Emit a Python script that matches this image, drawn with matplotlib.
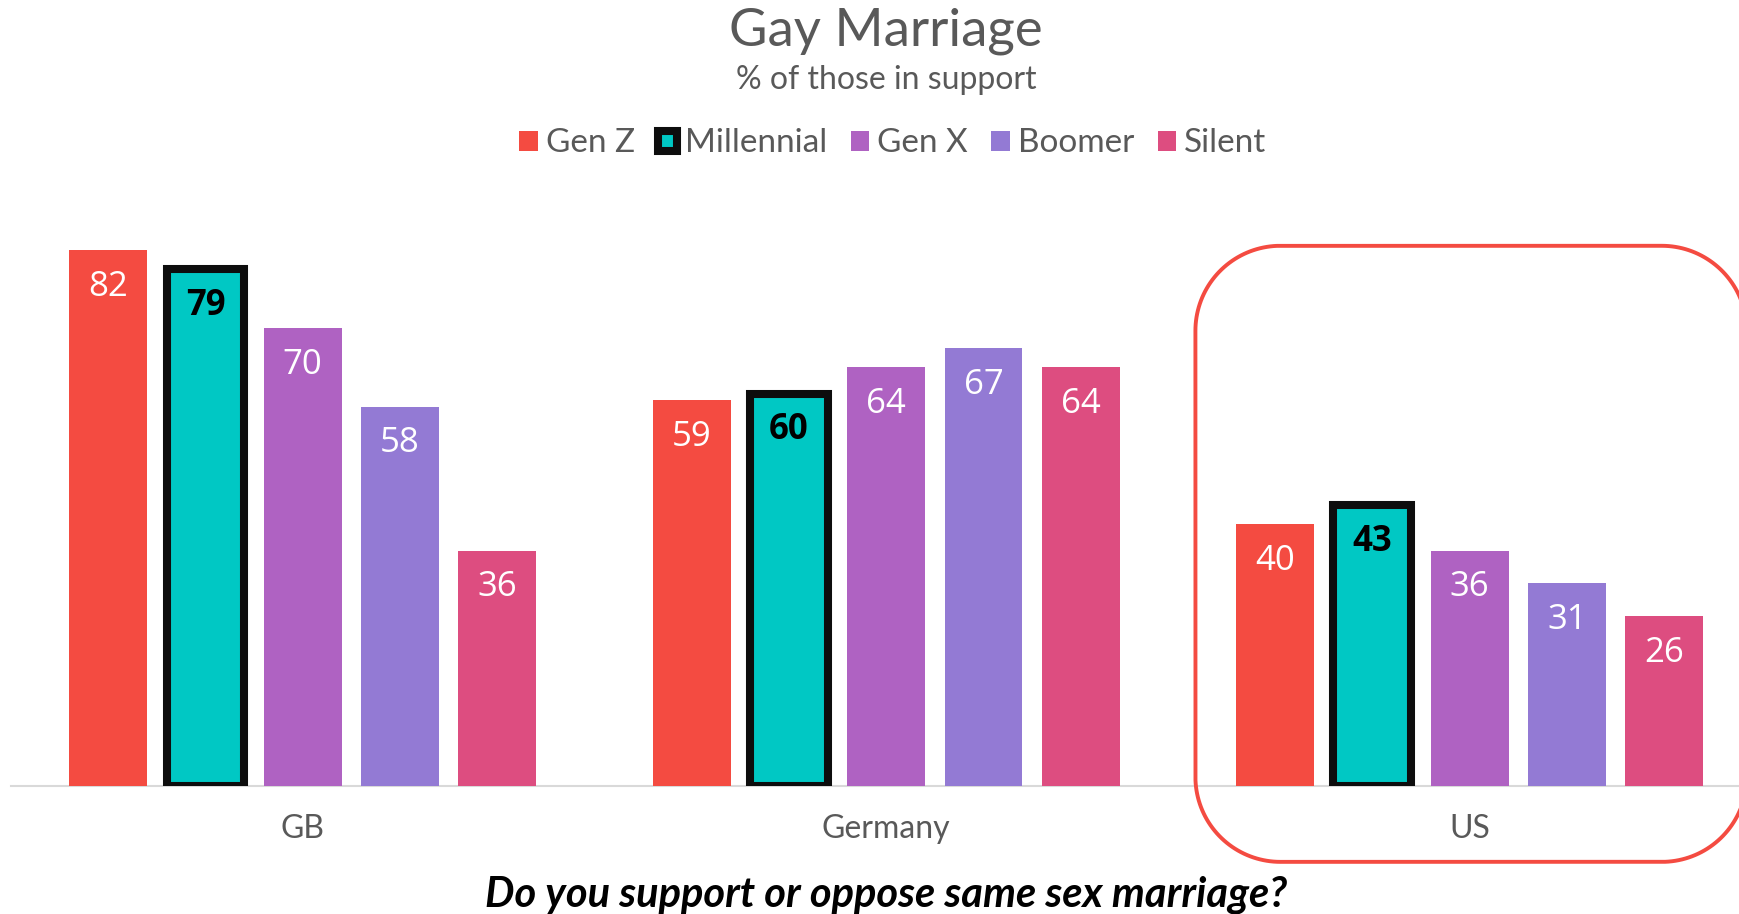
import numpy as np
import matplotlib.pyplot as plt

# data
countries = ["GB", "Germany", "US"]
generations = ["Gen Z", "Millennial", "Gen X", "Boomer", "Silent"]
gen_z = [82, 59, 40]
millennial = [79, 60, 43]
gen_x = [70, 64, 36]
boomer = [58, 67, 31]
silent = [36, 64, 26]

series = [gen_z, millennial, gen_x, boomer, silent]
colors = ["#F44B41", "#00C8C4", "#AF62C2", "#937AD4", "#DD4D80"]

plt.rcParams['font.family'] = ['Lato', 'DejaVu Sans']

fig = plt.figure(figsize=(17.39, 9.14), dpi=100)
ax = fig.add_axes([11 / 1739, 128 / 914, 1728 / 1739, 654 / 914])

group_step = 6
x = np.arange(len(countries)) * group_step
handles = []
for j, (vals, col) in enumerate(zip(series, colors)):
    pos = x + (j - 2)
    if generations[j] == "Millennial":
        b = ax.bar(pos, vals, 0.8, color=col, edgecolor="#0d0d0d", linewidth=5.8,
                   label=generations[j], zorder=3)
        txt_col, weight = "black", "bold"
    else:
        b = ax.bar(pos, vals, 0.8, color=col, label=generations[j], zorder=3)
        txt_col, weight = "white", "normal"
    handles.append(b)
    for xi, v in zip(pos, vals):
        ax.annotate(str(v), (xi, v), xytext=(0, -26.5), textcoords="offset points",
                    ha="center", va="center", color=txt_col, fontsize=25,
                    fontweight=weight, family=['Open Sans', 'DejaVu Sans'], zorder=4)

ax.set_xlim(-3, 14.77)
ax.set_ylim(0, 100)
for s in ["top", "right", "left"]:
    ax.spines[s].set_visible(False)
ax.spines["bottom"].set_color("#D9D9D9")
ax.spines["bottom"].set_linewidth(1.5)
ax.set_yticks([])
ax.set_xticks(x)
ax.set_xticklabels(countries, fontsize=23, color="#595959")
ax.tick_params(axis="x", length=0, pad=20)

# rounded highlight box round the US group, built from circular arcs
# (px per data unit: 97.25 in x, 6.54 in y)
us = x[2]
x0, x1, y0, y1 = us - 2.82, us + 2.85, -11.6, 82.6
rx, ry = 85 / 97.25, 85 / 6.54
t = np.linspace(0, np.pi / 2, 40)
bx = np.concatenate([x1 - rx + rx * np.cos(t), x0 + rx - rx * np.sin(t),
                     x0 + rx - rx * np.cos(t), x1 - rx + rx * np.sin(t)])
by = np.concatenate([y1 - ry + ry * np.sin(t), y1 - ry + ry * np.cos(t),
                     y0 + ry - ry * np.sin(t), y0 + ry - ry * np.cos(t)])
bx = np.append(bx, bx[0])
by = np.append(by, by[0])
ax.plot(bx, by, color="#F44B41", linewidth=2.8, clip_on=False, zorder=5,
        solid_joinstyle="round")

fig.text(0.5095, 0.966, "Gay Marriage", ha="center", va="center",
         fontsize=38, color="#595959")
fig.text(0.5095, 0.913, "% of those in support", ha="center", va="center",
         fontsize=23, color="#595959")
fig.legend(handles=handles, labels=generations, loc="center",
           bbox_to_anchor=(0.5135, 0.843), ncol=5, frameon=False,
           fontsize=24, labelcolor="#595959", handlelength=0.55,
           handleheight=0.55, handletextpad=0.25, columnspacing=0.7)
fig.text(0.5095, 0.021, "Do you support or oppose same sex marriage?",
         ha="center", va="center", fontsize=30, fontweight="bold",
         style="italic", color="black")

fig.savefig("out.png", dpi=100)
